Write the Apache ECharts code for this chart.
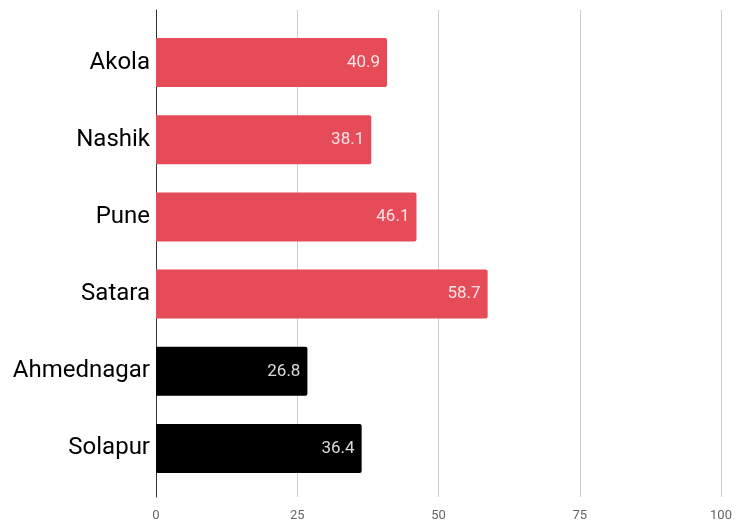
<!DOCTYPE html>
<html>
<head>
<meta charset="utf-8">
<script src="https://cdn.jsdelivr.net/npm/echarts@6/dist/echarts.min.js"></script>
<style>
  html, body { margin: 0; padding: 0; background: #fff; }
  #chart { width: 738px; height: 526px; }
</style>
</head>
<body>
<div id="chart"></div>
<script>
// District names, top to bottom
const districts = ['Akola', 'Nashik', 'Pune', 'Satara', 'Ahmednagar', 'Solapur'];
// Values per district
const values = [40.9, 38.1, 46.1, 58.7, 26.8, 36.4];
// Bar colours per district
const barColors = ['#E64B58', '#E64B58', '#E64B58', '#E64B58', '#000000', '#000000'];
// Value axis ticks
const xTicks = [0, 25, 50, 75, 100];

const chart = echarts.init(document.getElementById('chart'), null, { renderer: 'canvas' });

// Category axis reads top to bottom
const catOrder = districts.slice().reverse();
const valOrder = values.slice().reverse();
const colOrder = barColors.slice().reverse();

const option = {
  animation: false,
  backgroundColor: '#ffffff',
  grid: [
    // frame: gridlines, baseline and tick labels
    { left: 156, right: 17, top: 10, bottom: 29, containLabel: false },
    // bars
    { left: 156, right: 17, top: 24, bottom: 39, containLabel: false }
  ],
  xAxis: [
    {
      gridIndex: 0, type: 'value', min: xTicks[0], max: xTicks[xTicks.length - 1], interval: 25,
      axisLine: { show: false }, axisTick: { show: false },
      axisLabel: { color: '#666', fontSize: 13, fontFamily: 'Roboto', margin: 12 },
      splitLine: { show: true, lineStyle: { color: '#cccccc', width: 1 } }
    },
    {
      gridIndex: 1, type: 'value', min: 0, max: 100,
      show: false, splitLine: { show: false }
    }
  ],
  yAxis: [
    {
      gridIndex: 0, type: 'category', data: catOrder,
      axisLine: { show: true, lineStyle: { color: '#333', width: 1 } },
      axisTick: { show: false }, axisLabel: { show: false }, splitLine: { show: false }
    },
    {
      gridIndex: 1, type: 'category', data: catOrder,
      axisLine: { show: false }, axisTick: { show: false },
      axisLabel: { color: '#000', fontSize: 24, fontFamily: 'Roboto', margin: 6 }
    }
  ],
  series: [
    {
      type: 'bar',
      xAxisIndex: 1, yAxisIndex: 1,
      data: valOrder.map((v, i) => ({ value: v, itemStyle: { color: colOrder[i] } })),
      barWidth: 49,
      itemStyle: { borderRadius: [0, 2, 2, 0] },
      label: {
        show: true, position: 'insideRight', distance: 7,
        color: 'rgba(255,255,255,0.85)', fontSize: 17, fontFamily: 'Roboto',
        formatter: p => p.value.toFixed(1)
      }
    }
  ]
};

chart.setOption(option);
</script>
</body>
</html>
